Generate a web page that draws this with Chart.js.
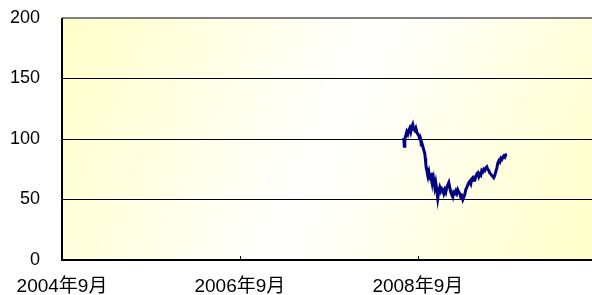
<!DOCTYPE html>
<html>
<head>
<meta charset="utf-8">
<script src="https://cdn.jsdelivr.net/npm/chart.js@4/dist/chart.umd.min.js"></script>
<style>
  html, body { margin: 0; padding: 0; background: #fff; }
  #wrap { width: 592px; height: 295px; }
</style>
</head>
<body>
<div id="wrap"><canvas id="chart" width="592" height="295"></canvas></div>
<script>
// x = months since 2004-09
const months = [
  46.11, 46.18, 46.25, 46.38, 46.51, 46.65, 46.78, 46.92, 47.05, 47.19,
  47.32, 47.46, 47.59, 47.73, 47.86, 47.99, 48.13, 48.26, 48.40, 48.47,
  48.53, 48.67, 48.80, 48.94, 49.01, 49.07, 49.14, 49.21, 49.34, 49.48,
  49.61, 49.75, 49.88, 49.95, 50.02, 50.15, 50.29, 50.42, 50.56, 50.69,
  50.83, 50.96, 51.10, 51.23, 51.37, 51.50, 51.64, 51.77, 51.91, 52.04,
  52.18, 52.31, 52.45, 52.58, 52.72, 52.85, 52.99, 53.12, 53.26, 53.39,
  53.53, 53.66, 53.80, 53.93, 54.07, 54.20, 54.34, 54.47, 54.61, 54.74,
  54.88, 55.01, 55.15, 55.28, 55.42, 55.55, 55.69, 55.82, 55.96, 56.09,
  56.23, 56.36, 56.50, 56.63, 56.77, 56.90, 57.04, 57.17, 57.31, 57.44,
  57.58, 57.71, 57.85, 57.98, 58.12, 58.25, 58.39, 58.52, 58.66, 58.79,
  58.93, 59.06, 59.20, 59.33, 59.47, 59.60, 59.74, 59.87, 60.01
];
const prices = [
  101, 94, 100, 103, 106, 104, 107, 109, 106, 110,
  112, 108, 107, 109, 106, 104, 103, 100, 99, 95,
  97, 94, 91, 88, 84, 80, 76, 74, 70, 73,
  68, 69, 65, 72, 61, 66, 60, 64, 58, 51,
  57, 60, 57, 59, 58, 55, 58, 56, 60, 62,
  64, 60, 56, 54, 52, 56, 55, 57, 55, 58,
  56, 55, 52, 53, 50, 52, 54, 58, 60, 62,
  64, 65, 63, 67, 68, 66, 66, 69, 71, 72,
  69, 71, 70, 74, 73, 75, 74, 76, 77, 75,
  74, 72, 71, 70, 69, 68, 70, 73, 76, 80,
  82, 81, 84, 83, 85, 86, 85, 87, 87.5
];
const xTicks = [0, 24, 48];
const xLabels = ['2004年9月', '2006年9月', '2008年9月'];
const xMax = 71.5;

const points = months.map((m, i) => ({ x: m, y: prices[i] }));

const FONT = '"Liberation Sans", Arial, "Noto Sans CJK SC", sans-serif';

// yellow-white-yellow diagonal fill behind the plot
const bgPlugin = {
  id: 'bg',
  beforeDraw(chart) {
    const a = chart.chartArea;
    const ctx = chart.ctx;
    const g = ctx.createLinearGradient(a.left, a.top, a.right, a.bottom);
    g.addColorStop(0, '#ffffc8');
    g.addColorStop(0.5, '#ffffff');
    g.addColorStop(1, '#ffffc8');
    ctx.save();
    ctx.fillStyle = g;
    ctx.fillRect(a.left, a.top, a.right - a.left, a.bottom - a.top);
    ctx.restore();
  }
};

// short tick marks pointing up into the plot, plus the axis lines
const axisPlugin = {
  id: 'axes',
  afterDatasetsDraw(chart) {
    const a = chart.chartArea;
    const ctx = chart.ctx;
    const xs = chart.scales.x;
    ctx.save();
    ctx.strokeStyle = '#000';
    ctx.lineWidth = 1;
    xTicks.slice(1).forEach(t => {
      const px = Math.round(xs.getPixelForValue(t)) + 0.5;
      ctx.beginPath();
      ctx.moveTo(px, a.bottom);
      ctx.lineTo(px, a.bottom - 4);
      ctx.stroke();
    });
    ctx.strokeStyle = '#808080';
    ctx.lineWidth = 2;
    ctx.beginPath();
    ctx.moveTo(a.left, a.top);
    ctx.lineTo(a.right, a.top);
    ctx.stroke();
    ctx.strokeStyle = '#000';
    ctx.lineWidth = 2;
    ctx.beginPath();
    ctx.moveTo(a.left, a.top);
    ctx.lineTo(a.left, a.bottom);
    ctx.lineTo(a.right, a.bottom);
    ctx.stroke();
    ctx.restore();
  }
};

new Chart(document.getElementById('chart'), {
  type: 'line',
  data: {
    datasets: [{
      data: points,
      borderColor: '#000080',
      borderWidth: 3,
      pointRadius: 0,
      tension: 0,
      fill: false
    }]
  },
  options: {
    responsive: false,
    animation: false,
    layout: { padding: { top: 18, right: 0, left: 0, bottom: 0 } },
    plugins: { legend: { display: false }, tooltip: { enabled: false } },
    scales: {
      x: {
        type: 'linear',
        min: 0,
        max: xMax,
        afterBuildTicks: s => { s.ticks = xTicks.map(v => ({ value: v })); },
        afterFit: s => { s.height = 35; s.paddingLeft = 0; s.paddingRight = 0; },
        grid: { display: false, drawTicks: false },
        border: { display: false },
        ticks: {
          padding: 15,
          maxRotation: 0,
          autoSkip: false,
          color: '#000',
          font: { family: FONT, size: 19 },
          callback: v => xLabels[xTicks.indexOf(v)]
        }
      },
      y: {
        min: 0,
        max: 200,
        afterFit: s => { s.width = 62; s.paddingTop = 0; s.paddingBottom = 0; },
        grid: {
          drawTicks: false,
          color: ctx => (ctx.tick && ctx.tick.value === 200) ? 'rgba(0,0,0,0)' : '#000',
          lineWidth: 1
        },
        border: { display: false },
        ticks: {
          stepSize: 50,
          padding: 22,
          color: '#000',
          font: { family: FONT, size: 18 }
        }
      }
    }
  },
  plugins: [bgPlugin, axisPlugin]
});
</script>
</body>
</html>
